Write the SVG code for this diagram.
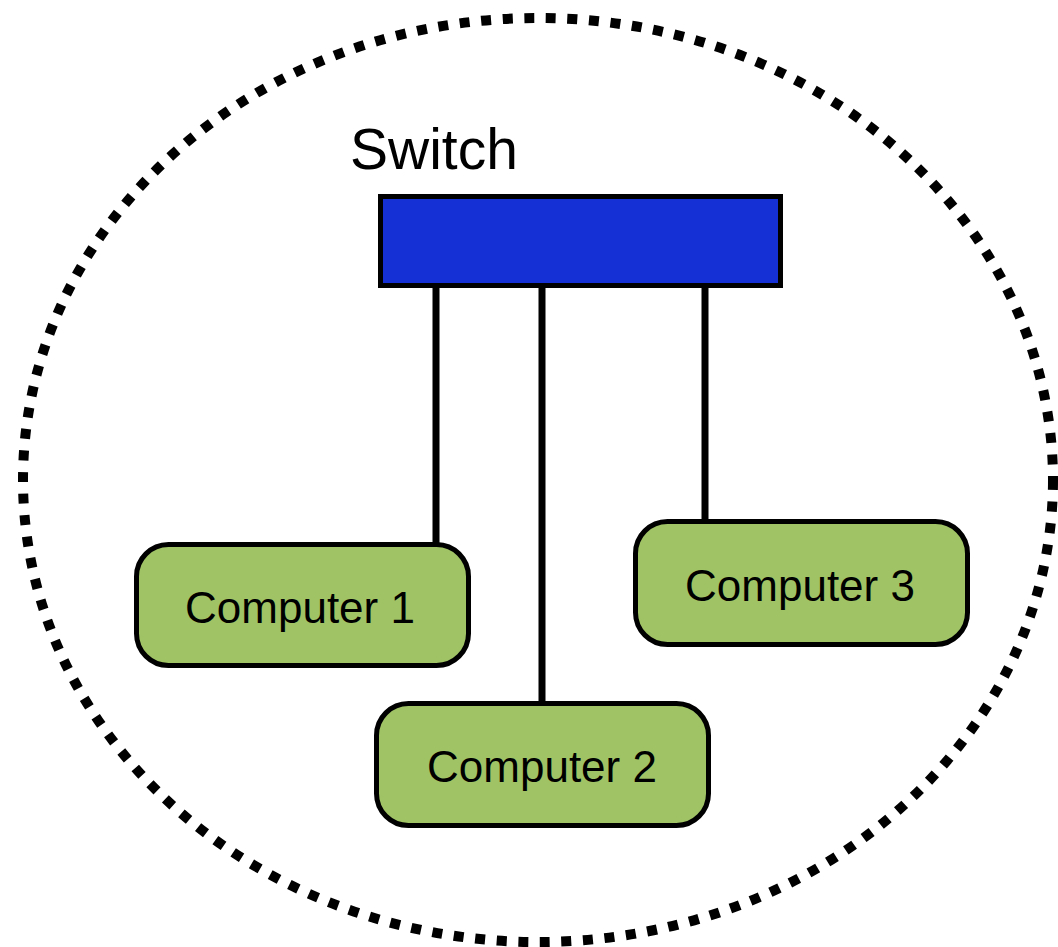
<svg xmlns="http://www.w3.org/2000/svg" width="1058" height="947" viewBox="0 0 1058 947">
  <style>
    .boundary { fill: none; stroke: #000; stroke-width: 10; stroke-dasharray: 10 11.6; }
    .switch { fill: #1530D4; stroke: #000; stroke-width: 5; }
    .computer { fill: #A0C465; stroke: #000; stroke-width: 5; }
    .link { stroke: #000; stroke-width: 7; fill: none; }
    .label { font-family: "Liberation Sans", Arial, sans-serif; fill: #000; }
  </style>
  <rect width="1058" height="947" fill="#fff"/>

  <!-- network boundary -->
  <ellipse class="boundary" cx="538" cy="480" rx="515" ry="462"/>

  <!-- cables -->
  <g id="connectors">
    <line class="link" x1="436" y1="286" x2="436" y2="546"/>
    <line class="link" x1="542" y1="286" x2="542" y2="704"/>
    <line class="link" x1="705" y1="286" x2="705" y2="522"/>
  </g>

  <g id="switch">
    <text class="label" x="350" y="169" font-size="57">Switch</text>
    <rect class="switch" x="380.5" y="196.5" width="400" height="89"/>
  </g>

  <g id="computer1">
    <rect class="computer" x="136.5" y="544.5" width="332" height="121" rx="32"/>
    <text class="label" x="300" y="623" font-size="44" text-anchor="middle">Computer 1</text>
  </g>

  <g id="computer2">
    <rect class="computer" x="376.5" y="703.5" width="332" height="122" rx="32"/>
    <text class="label" x="542" y="782" font-size="44" text-anchor="middle">Computer 2</text>
  </g>

  <g id="computer3">
    <rect class="computer" x="635.5" y="521.5" width="332" height="123" rx="32"/>
    <text class="label" x="800" y="601" font-size="44" text-anchor="middle">Computer 3</text>
  </g>
</svg>
